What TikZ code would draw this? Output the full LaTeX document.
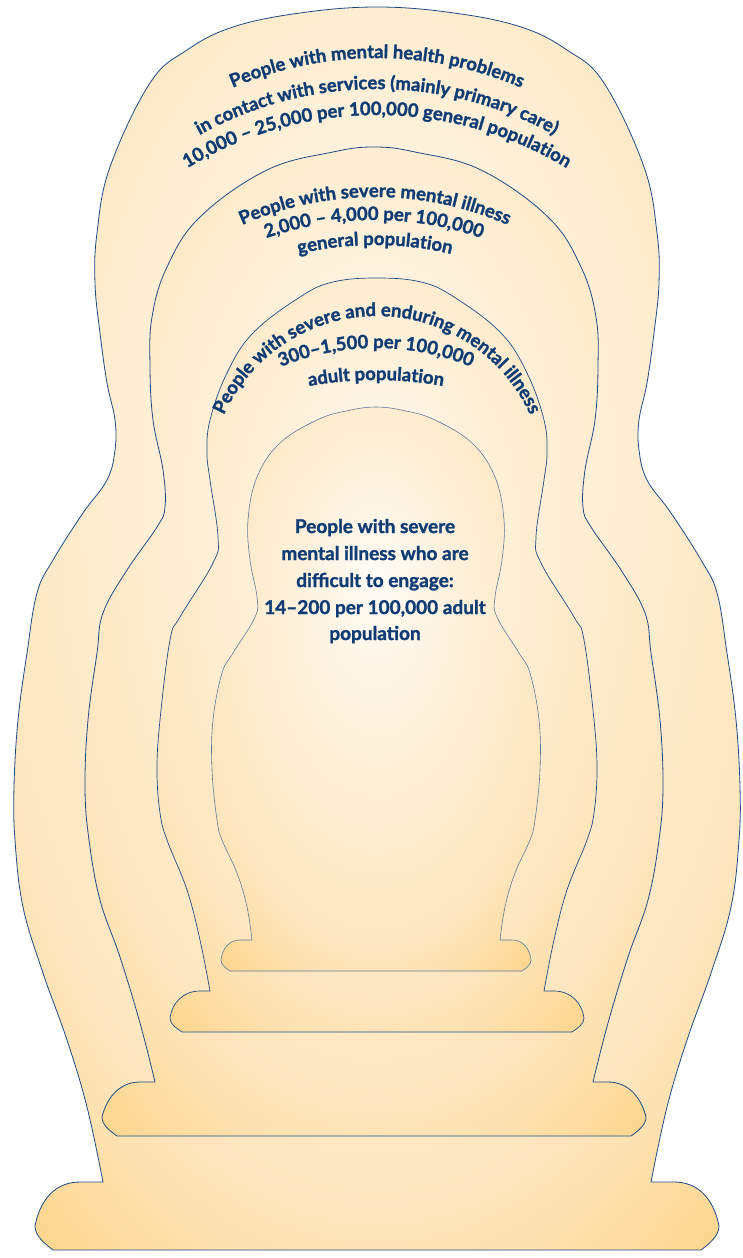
\documentclass[tikz,border=0pt]{standalone}
\usepackage{fontspec}
\newfontfamily\dollfont{Lato}[BoldFeatures={FakeBold=1.5}]
\definecolor{navy}{HTML}{1D4A87}
\definecolor{innerline}{HTML}{60789A}
\definecolor{txt}{HTML}{0F3C75}
\definecolor{c0}{HTML}{FFFCF6}
\definecolor{c1}{HTML}{FEF3E0}
\definecolor{c2}{HTML}{FDE6BE}
\definecolor{c3}{HTML}{FCD488}
\pgfdeclareradialshading{dollshade}{\pgfpoint{0bp}{10bp}}{color(0bp)=(c0); color(10bp)=(c1); color(28bp)=(c2); color(37bp)=(c3); color(50bp)=(c3)}
\newcommand\dollfnt{\dollfont\bfseries\fontsize{19}{22}\selectfont}
\newcommand\arcfnt{\dollfont\bfseries\fontsize{18.5}{22}\selectfont}
\makeatletter
\newdimen\arc@w
\newdimen\arc@s
\newcount\arccnt
\newif\ifarc@draw
\def\arc@stop{\arc@stop}
\def\arc@measure#1#2{%
  \setbox0=\hbox{\pgfinterruptpicture\arcfnt #1\endpgfinterruptpicture}%
  \arc@w=\wd0\relax
  \ifdim\arc@w<0.3pt \arc@w=#2\relax\fi}
% \arctext{cx}{top baseline y}{R}{text}
\newcommand\arctext[4]{%
  \def\arc@cx{#1}\pgfmathsetmacro\arc@cy{-(#2)-(#3)}\def\arc@R{#3}%
  \arc@drawfalse\arc@s=0pt\relax
  \arc@words#4 \@nil
  \arc@s=-0.5\arc@s\relax
  \arc@drawtrue
  \arc@words#4 \@nil}
\def\arc@words#1 #2\@nil{%
  \arc@chars#1\arc@stop
  \ifx\relax#2\relax\else
    \arc@measure{\ }{4.5pt}\advance\arc@s\arc@w
    \arc@words#2\@nil
  \fi}
\def\arc@chars#1{%
  \ifx#1\arc@stop\else
    \arc@measure{#1}{9.4pt}%
    \ifarc@draw
      \edef\arc@sv{\strip@pt\arc@s}\edef\arc@wv{\strip@pt\arc@w}%
      \pgfmathsetmacro\arc@ang{90-(\arc@sv+0.5*\arc@wv)/\arc@R*57.29578}%
      \global\advance\arccnt by 1
      \node[arcchar, rotate=\arc@ang-90] (ac\the\arccnt) at ({\arc@cx+\arc@R*cos(\arc@ang)},{\arc@cy+\arc@R*sin(\arc@ang)}) {#1};%
    \fi
    \advance\arc@s\arc@w
    \expandafter\arc@chars
  \fi}
\makeatother
\begin{document}
\begin{tikzpicture}[x=1pt,y=1pt,
  doll/.style={shade, shading=dollshade, draw=navy, line width=0.8pt, line join=round},
  dollin/.style={shade, shading=dollshade, draw=innerline, line width=0.6pt, line join=round},
  arcchar/.style={font=\arcfnt, text=txt, inner sep=0pt, anchor=base},
  inner/.style={font=\dollfnt, text=txt, inner sep=0pt, anchor=base}]
\useasboundingbox (0,0) rectangle (743,-1258);
\fill[white] (0,0) rectangle (743,-1258);
% outer doll
\path[doll] (103,-1182) -- (80,-1182) .. controls (55,-1182) and (40,-1200) .. (35,-1226) .. controls (35,-1236) and (45,-1244) .. (53,-1250) -- (701,-1250) .. controls (709,-1244) and (719,-1236) .. (719,-1226) .. controls (714,-1200) and (699,-1182) .. (674,-1182) -- (651,-1182)
 -- plot[smooth, tension=0.65] coordinates {(651,-1182) (667,-1107) (687,-1040) (711,-973) (731,-907) (739,-840) (740,-787) (736,-720) (727,-653) (717,-593) (701,-560) (671,-513) (647,-480) (639,-450) (639,-420) (647,-383) (654,-333) (659,-283) (657,-233) (644,-167) (604,-83) (567,-50) (521,-27) (454,-13) (377,-7) (300,-13) (233,-27) (187,-50) (150,-83) (110,-167) (97,-233) (95,-283) (100,-333) (107,-383) (115,-420) (115,-450) (107,-480) (83,-513) (53,-560) (37,-593) (27,-653) (18,-720) (14,-787) (15,-840) (23,-907) (43,-973) (67,-1040) (87,-1107) (103,-1182)} -- cycle;
% second doll
\path[doll] (155,-1082) -- (140,-1082) .. controls (118,-1082) and (106,-1100) .. (102,-1117) .. controls (102,-1125) and (110,-1131) .. (117,-1136) -- (631,-1136) .. controls (638,-1131) and (646,-1125) .. (646,-1117) .. controls (642,-1100) and (630,-1082) .. (608,-1082) -- (593,-1082)
 -- plot[smooth, tension=0.65] coordinates {(593,-1082) (608,-1023) (628,-957) (648,-900) (659,-840) (663,-787) (660,-720) (651,-653) (645,-613) (621,-570) (591,-527) (583,-507) (585,-470) (595,-420) (598,-367) (596,-317) (581,-267) (548,-217) (481,-170) (415,-152) (374,-147) (333,-152) (267,-170) (200,-217) (167,-267) (152,-317) (150,-367) (153,-420) (163,-470) (165,-507) (157,-527) (127,-570) (103,-613) (97,-653) (88,-720) (85,-787) (89,-840) (100,-900) (120,-957) (140,-1023) (155,-1082)} -- cycle;
% third doll
\path[doll, line width=0.7pt] (210,-991) -- (200,-991) .. controls (183,-991) and (172,-1003) .. (170,-1018) .. controls (170,-1024) and (176,-1028) .. (182,-1032) -- (572,-1032) .. controls (578,-1028) and (584,-1024) .. (584,-1018) .. controls (582,-1003) and (571,-991) .. (554,-991) -- (544,-991)
 -- plot[smooth, tension=0.65] coordinates {(544,-991) (554,-940) (567,-890) (587,-840) (594,-813) (597,-770) (594,-720) (584,-640) (574,-617) (541,-563) (536,-537) (544,-480) (547,-453) (544,-420) (527,-373) (501,-333) (454,-297) (421,-282) (377,-278) (333,-282) (300,-297) (253,-333) (227,-373) (210,-420) (207,-453) (210,-480) (218,-537) (213,-563) (180,-617) (170,-640) (160,-720) (157,-770) (160,-813) (167,-840) (187,-890) (200,-940) (210,-991)} -- cycle;
% innermost doll
\path[dollin] (252,-940) -- (240,-940) .. controls (228,-940) and (222,-950) .. (221,-960) .. controls (221,-965) and (226,-968) .. (230,-971) -- (522,-971) .. controls (526,-968) and (531,-965) .. (531,-960) .. controls (530,-950) and (524,-940) .. (512,-940) -- (500,-940)
 -- plot[smooth, tension=0.65] coordinates {(500,-940) (505,-907) (515,-873) (530,-840) (535,-820) (540,-770) (539,-720) (530,-673) (519,-653) (497,-617) (495,-597) (502,-560) (504,-520) (495,-477) (472,-443) (435,-420) (406,-411) (376,-407) (346,-411) (317,-420) (280,-443) (257,-477) (248,-520) (250,-560) (257,-597) (255,-617) (233,-653) (222,-673) (213,-720) (212,-770) (217,-820) (222,-840) (237,-873) (247,-907) (252,-940)} -- cycle;
% arched texts
\arctext{377}{58}{365}{People with mental health problems}
\arctext{377}{89}{365}{in contact with services (mainly primary care)}
\arctext{377}{115}{365}{10,000 – 25,000 per 100,000 general population}
\arctext{375}{197}{330}{People with severe mental illness}
\arctext{374}{220}{330}{2,000 – 4,000 per 100,000}
\arctext{375}{245}{330}{general population}
\arctext{377}{316}{168}{People with severe and enduring mental illness}
\arctext{376}{348}{250}{300–1,500 per 100,000}
\arctext{376}{380}{370}{adult population}
% inner text
\node[inner] (t1) at (375,-533) {People with severe};
\node[inner] (t2) at (375,-560) {mental illness who are};
\node[inner] (t3) at (375,-587) {difficult to engage:};
\node[inner] (t4) at (375,-614) {14–200 per 100,000 adult};
\node[inner] (t5) at (375,-640) {population};
\end{tikzpicture}
\end{document}
